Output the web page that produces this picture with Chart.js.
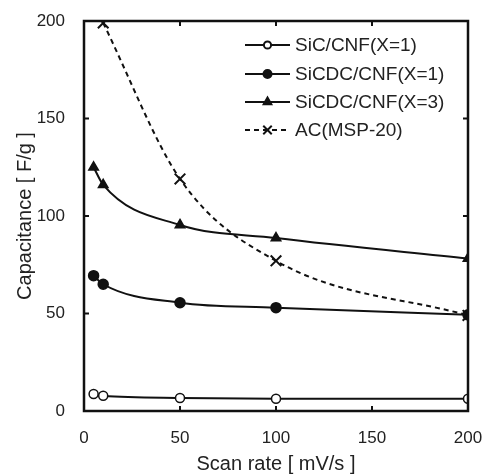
<!DOCTYPE html>
<html>
<head>
<meta charset="utf-8">
<script src="https://cdn.jsdelivr.net/npm/chart.js@4.4.1/dist/chart.umd.min.js"></script>
<style>
  html, body { margin: 0; padding: 0; background: #fff; }
  #wrap { width: 485px; height: 476px; }
</style>
</head>
<body>
<div id="wrap"><canvas id="chart" width="485" height="476"></canvas></div>
<script>
// data
const scanRates = [5, 10, 50, 100, 200];
const acRates = [10, 50, 100, 200];
const sicCnf1 = [8.7, 7.8, 6.7, 6.3, 6.3];
const sicdcCnf1 = [69.4, 65, 55.5, 53, 49.3];
const sicdcCnf3 = [125, 116, 95.4, 88.7, 78.2];
const acMsp20 = [199, 119, 77, 49];
const xTicks = [0, 50, 100, 150, 200];
const yTicks = [0, 50, 100, 150, 200];
const seriesNames = ['SiC/CNF(X=1)', 'SiCDC/CNF(X=1)', 'SiCDC/CNF(X=3)', 'AC(MSP-20)'];

const FONT = '"Liberation Sans", Arial, sans-serif';
const INK = '#111';
const TEXT = '#222';

function pts(xs, ys) {
    return xs.map((x, i) => ({ x: x, y: ys[i] }));
}

const datasets = [
    { label: seriesNames[0], data: pts(scanRates, sicCnf1), pointStyle: 'circle', pointRadius: 4.5,
      pointBackgroundColor: '#fff', pointBorderWidth: 1.5, borderDash: [] },
    { label: seriesNames[1], data: pts(scanRates, sicdcCnf1), pointStyle: 'circle', pointRadius: 5,
      pointBackgroundColor: INK, pointBorderWidth: 1.5, borderDash: [] },
    { label: seriesNames[2], data: pts(scanRates, sicdcCnf3), pointStyle: 'triangle', pointRadius: 5.5,
      pointBackgroundColor: INK, pointBorderWidth: 1.5, borderDash: [] },
    { label: seriesNames[3], data: pts(acRates, acMsp20), pointStyle: 'crossRot', pointRadius: 7.5,
      pointBackgroundColor: 'transparent', pointBorderWidth: 2, borderDash: [5, 4] }
].map(d => Object.assign({
    borderColor: INK,
    borderWidth: 2,
    pointBorderColor: INK,
    cubicInterpolationMode: 'monotone',
    fill: false
}, d));

// frame, inward ticks and legend
const framePlugin = {
    id: 'frame',
    afterDatasetsDraw(chart) {
        const ctx = chart.ctx;
        const a = chart.chartArea;
        const xs = chart.scales.x, ys = chart.scales.y;
        ctx.save();
        ctx.strokeStyle = INK;
        ctx.lineWidth = 2.5;
        ctx.setLineDash([]);
        ctx.strokeRect(a.left, a.top, a.right - a.left, a.bottom - a.top);
        ctx.lineWidth = 2;
        const t = 5;
        xTicks.forEach(v => {
            const px = xs.getPixelForValue(v);
            ctx.beginPath();
            ctx.moveTo(px, a.bottom); ctx.lineTo(px, a.bottom - t);
            ctx.moveTo(px, a.top); ctx.lineTo(px, a.top + t);
            ctx.stroke();
        });
        yTicks.forEach(v => {
            const py = ys.getPixelForValue(v);
            ctx.beginPath();
            ctx.moveTo(a.left, py); ctx.lineTo(a.left + t, py);
            ctx.moveTo(a.right, py); ctx.lineTo(a.right - t, py);
            ctx.stroke();
        });

        // legend
        const lx0 = 245, lx1 = 290, tx = 295;
        const rowY = [45, 74, 102, 130];
        ctx.font = '19px ' + FONT;
        ctx.textBaseline = 'middle';
        datasets.forEach((d, i) => {
            const y = rowY[i];
            ctx.lineWidth = 2;
            ctx.strokeStyle = INK;
            ctx.setLineDash(d.borderDash);
            ctx.beginPath();
            ctx.moveTo(lx0, y); ctx.lineTo(lx1, y);
            ctx.stroke();
            ctx.setLineDash([]);
            ctx.fillStyle = d.pointBackgroundColor;
            Chart.helpers.drawPoint(ctx, {
                pointStyle: d.pointStyle,
                radius: d.pointRadius * 0.8,
                rotation: 0,
                borderWidth: d.pointBorderWidth
            }, (lx0 + lx1) / 2, y);
            ctx.fillStyle = TEXT;
            ctx.fillText(d.label, tx, y + 1);
        });
        ctx.restore();
    }
};

new Chart(document.getElementById('chart'), {
    type: 'line',
    data: { datasets: datasets },
    options: {
        responsive: false,
        animation: false,
        layout: { padding: { left: 0, right: 17, top: 21, bottom: 0 } },
        plugins: { legend: { display: false }, tooltip: { enabled: false } },
        scales: {
            x: {
                type: 'linear',
                min: 0, max: 200,
                afterBuildTicks: s => { s.ticks = xTicks.map(v => ({ value: v })); },
                afterFit: s => { s.height = 65; s.paddingLeft = 0; s.paddingRight = 0; },
                grid: { display: false, drawTicks: false },
                border: { display: false },
                ticks: { padding: 17, color: TEXT, font: { family: FONT, size: 17 } },
                title: { display: true, text: 'Scan rate [ mV/s ]', color: TEXT,
                         font: { family: FONT, size: 20 }, padding: { top: 2, bottom: 0 } }
            },
            y: {
                min: 0, max: 200,
                afterBuildTicks: s => { s.ticks = yTicks.map(v => ({ value: v })); },
                afterFit: s => { s.width = 84; s.paddingTop = 0; s.paddingBottom = 0; },
                grid: { display: false, drawTicks: false },
                border: { display: false },
                ticks: { padding: 19, color: TEXT, font: { family: FONT, size: 17 } },
                title: { display: true, text: 'Capacitance [ F/g ]', color: TEXT,
                         font: { family: FONT, size: 20 }, padding: { top: 13, bottom: 4 } }
            }
        }
    },
    plugins: [framePlugin]
});
</script>
</body>
</html>
